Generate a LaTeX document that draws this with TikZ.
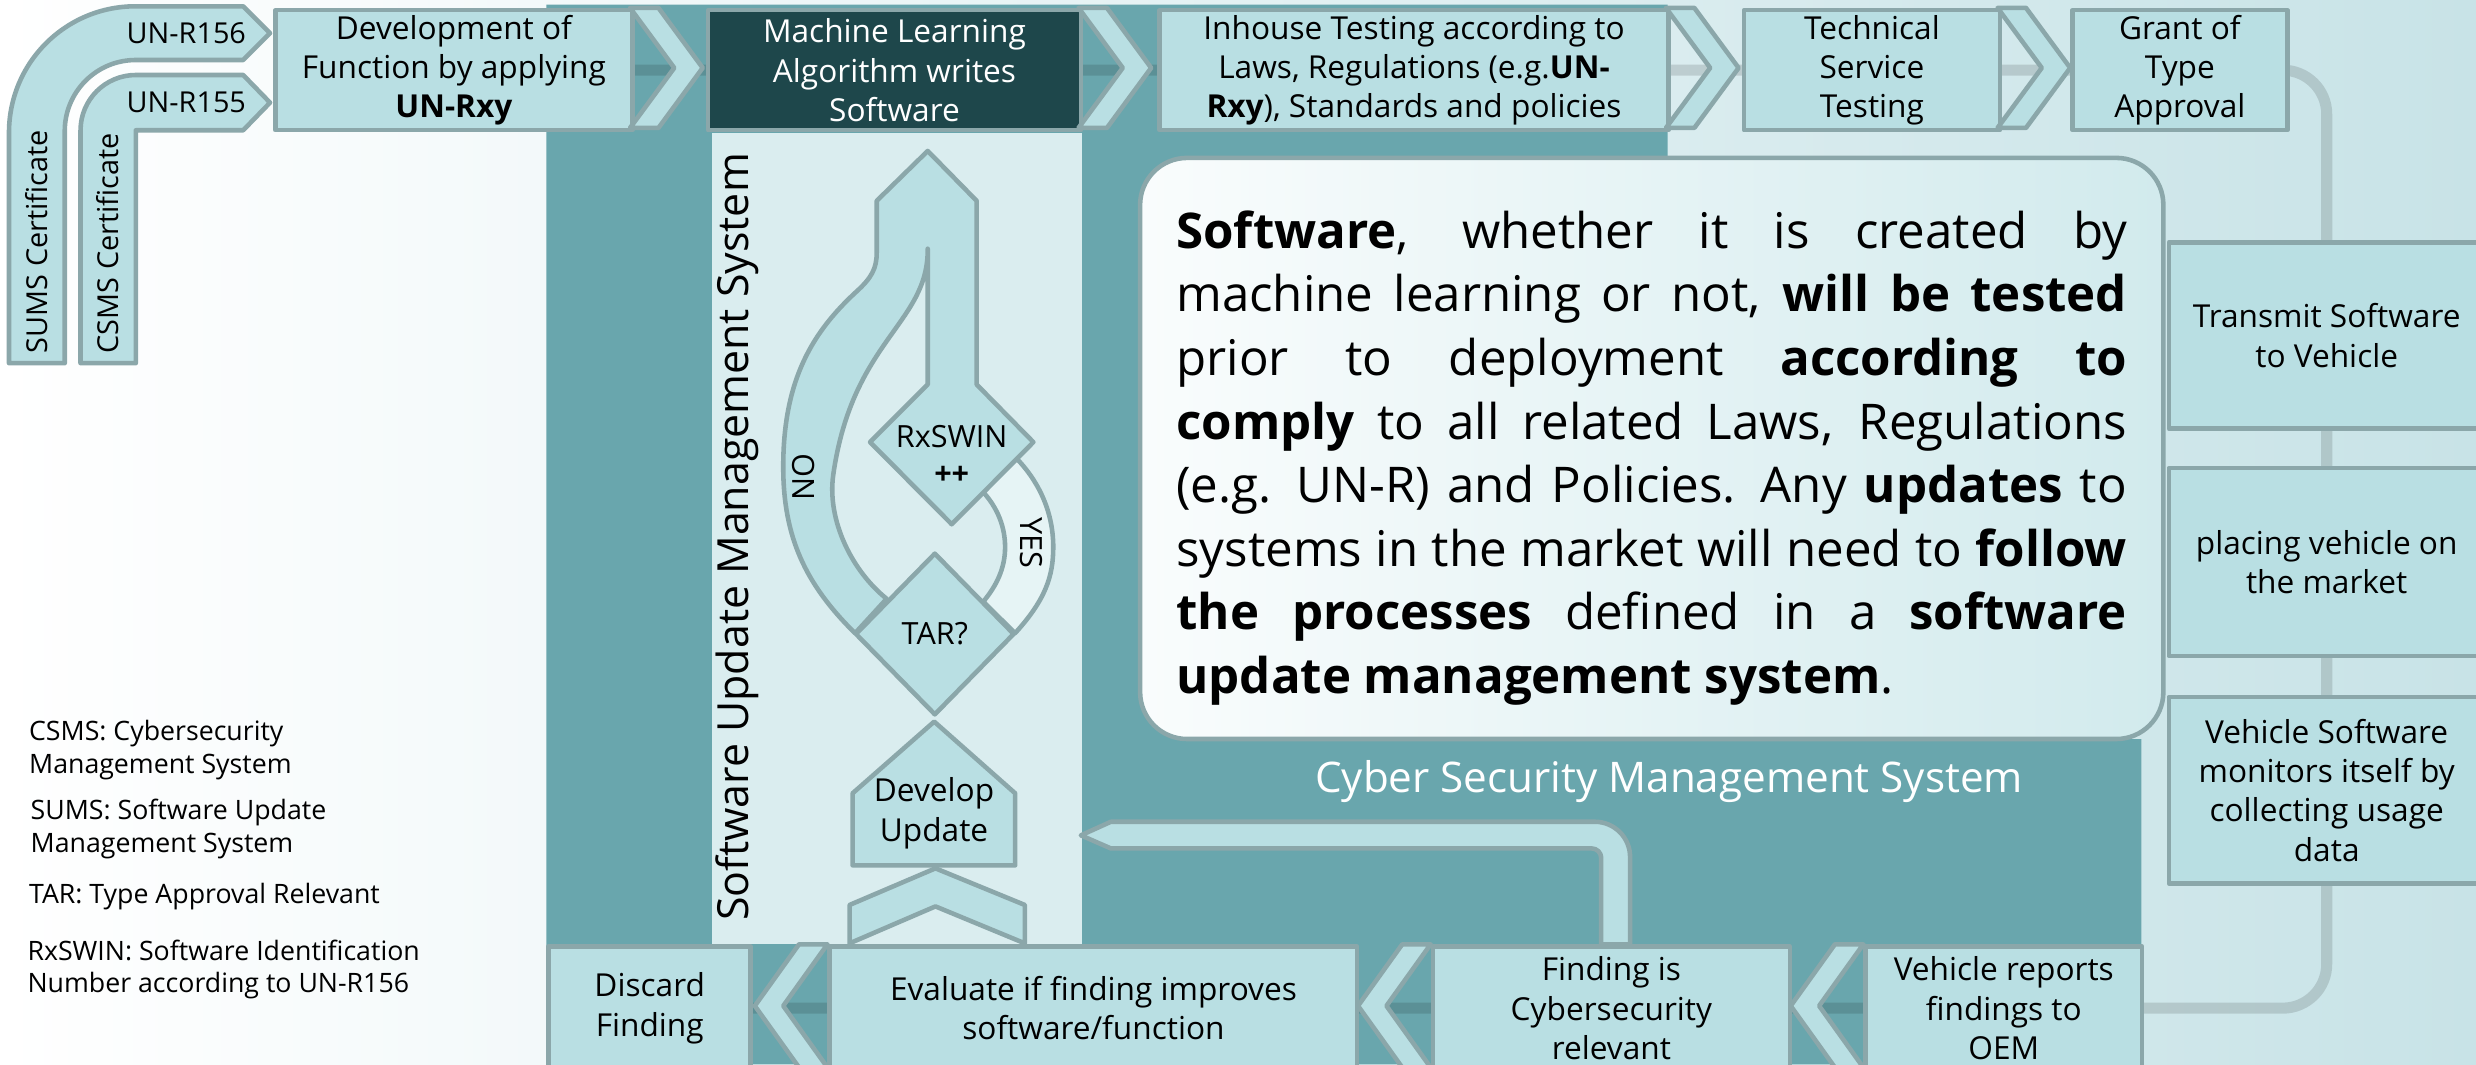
\documentclass[tikz,border=0pt]{standalone}
\usepackage{fontspec}
\setmainfont{Open Sans}
\usetikzlibrary{shapes.geometric}
\definecolor{bgR}{HTML}{C8E3E7}
\definecolor{tealbg}{HTML}{69A6AD}
\definecolor{boxfill}{HTML}{B9DFE3}
\definecolor{boxline}{HTML}{8BA7AA}
\definecolor{darkbox}{HTML}{1E474B}
\definecolor{panel}{HTML}{DAEDEF}
\definecolor{yesfill}{HTML}{E6F4F5}
\newlength{\pxu}\setlength{\pxu}{0.1579mm}
\pgfdeclarelayer{bg}\pgfdeclarelayer{lines}\pgfsetlayers{bg,lines,main}
\begin{document}
\begin{tikzpicture}[x=0.1579mm,y=-0.1579mm,line join=round,
  sz/.style 2 args={minimum width=#1*\pxu,minimum height=#2*\pxu},
  flow/.style={draw=boxline,fill=boxfill,line width=1.3pt},
  procbox/.style={flow,inner sep=0pt,anchor=north west,align=center,font=\fontsize{9}{11.2}\selectfont},
  mlbox/.style={procbox,fill=darkbox,text=white},
  lbl/.style={inner sep=0pt,align=center,font=\fontsize{8.7}{10.5}\selectfont},
  legend/.style={inner sep=0pt,anchor=west,align=left,font=\fontsize{7.6}{9.2}\selectfont},
  conn/.style={draw=black,draw opacity=.13,line width=7*\pxu,rounded corners=4.4mm},
  msgbox/.style={draw=boxline,line width=1.3pt,rounded corners=4.7mm,left color=white!92!boxfill,right color=boxfill!65!white,inner sep=0pt},
  msgtext/.style={inner sep=0pt,text width=95.06mm,font=\fontsize{14}{18.1}\selectfont}]
\useasboundingbox (0,0) rectangle (1568,674);
\begin{pgfonlayer}{bg}
\fill[left color=white,right color=bgR] (0,0) rectangle (1568,674);
\fill[tealbg] (346,3) rectangle (1056,674) (1056,468) rectangle (1356,674);
\fill[panel] (451,84) rectangle (685,598);
\end{pgfonlayer}

\draw[flow] (5.7,230) -- (5.7,84) .. controls (5.7,39.8) and (41.5,4) .. (85.7,4) -- (154,4) -- (171,21) -- (154,38) -- (86,38) .. controls (61.1,38) and (41,58.1) .. (41,83) -- (41,230) -- cycle;
\draw[flow] (51,230) -- (51,82.5) .. controls (51,63.2) and (66.7,47.5) .. (86,47.5) -- (154,47.5) -- (171,65) -- (154,82.5) -- (86,82.5) -- (86,230) -- cycle;
\node[lbl,font=\fontsize{8.2}{10}\selectfont] (r156) at (118,21) {UN-R156};
\node[lbl,font=\fontsize{8.2}{10}\selectfont] (r155) at (118,65) {UN-R155};
\node[lbl,font=\fontsize{8.2}{10}\selectfont,rotate=90] (sumscert) at (23,153) {SUMS Certificate};
\node[lbl,font=\fontsize{8.2}{10}\selectfont,rotate=90] (csmscert) at (68,154) {CSMS Certificate};

\node[procbox,sz={226}{76}] (dev) at (173,5) {Development of\\Function by applying\\\textbf{UN-Rxy}};
\node[mlbox,sz={236}{76}] (ml) at (447,5) {Machine Learning\\Algorithm writes\\Software};
\node[procbox,sz={322}{76}] (inhouse) at (733,5) {Inhouse Testing according to\\Laws, Regulations (e.g.\textbf{UN-}\\\textbf{Rxy}), Standards and policies};
\node[procbox,sz={162}{76}] (tech) at (1103,5) {Technical\\Service\\Testing};
\node[procbox,sz={136}{76}] (grant) at (1311,5) {Grant of\\Type\\Approval};
\foreach \x in {399,683,1055,1265}
  \draw[flow] (\x,5) -- ++(18,0) -- ++(28,38) -- ++(-28,38) -- ++(-18,0) -- ++(28,-38) -- cycle;

\node[procbox,sz={200}{118}] (transmit) at (1372,152) {Transmit Software\\to Vehicle};
\node[procbox,sz={200}{119}] (placing) at (1372,295) {placing vehicle on\\the market};
\node[procbox,sz={200}{118}] (monitor) at (1372,440) {Vehicle Software\\monitors itself by\\collecting usage\\data};

\draw[flow] (684.5,529) -- (703.5,520.4) -- (1010,520.4) .. controls (1022.3,520.4) and (1032.3,530.4) .. (1032.3,542.7) -- (1032.3,598) -- (1014,598) -- (1014,543.3) .. controls (1014,540) and (1011.3,537.3) .. (1008,537.3) -- (703.5,537.3) -- cycle;

\node[procbox,sz={128}{78}] (discard) at (346,598) {Discard\\Finding};
\node[procbox,sz={334}{78}] (evaluate) at (524,598) {Evaluate if finding improves\\software/function};
\node[procbox,sz={226}{78}] (finding) at (906,598) {Finding is\\Cybersecurity\\relevant};
\node[procbox,sz={175}{78}] (vehrep) at (1180,598) {Vehicle reports\\findings to\\OEM};
\foreach \x in {524,906,1180}
  \draw[flow] (\x,598) -- ++(-18,0) -- ++(-28,39) -- ++(28,39) -- ++(18,0) -- ++(-28,-39) -- cycle;

\node[msgbox,sz={648}{368}] (msg) at (1046,284) {};
\node[msgtext] (msgtxt) at (1046,290) {\spaceskip=0.26em plus 3em minus 0.06em
\makebox[\hsize][s]{\textbf{Software}, whether it is created by}\\
\makebox[\hsize][s]{machine learning or not, \textbf{will be tested}}\\
\makebox[\hsize][s]{prior to deployment \textbf{according to}}\\
\makebox[\hsize][s]{\textbf{comply} to all related Laws, Regulations}\\
\makebox[\hsize][s]{(e.g. UN-R) and Policies. Any \textbf{updates} to}\\
\makebox[\hsize][s]{systems in the market will need to \textbf{follow}}\\
\makebox[\hsize][s]{\textbf{the processes} defined in a \textbf{software}}\\
\textbf{update management system}.};

\draw[flow,fill=yesfill] (642.8,401) .. controls (662,380) and (667,365) .. (667,346.5) .. controls (667,322) and (656,303) .. (643.9,290.5) -- (622.7,311.7) .. controls (632,322) and (636.5,334) .. (636.5,346.5) .. controls (636.5,360) and (631,371) .. (622.7,381) -- cycle;
\draw[flow] (587.5,95.6) -- (618.5,127.2) -- (618.5,243.5) -- (654.4,280) -- (602.7,332) -- (551,280) -- (587.5,243.5) -- (587.5,157.5)
  .. controls (588,205) and (540,215) .. (527.7,300.5)
  .. controls (523.5,330) and (540,362) .. (561.5,379.2)
  -- (541.5,401)
  .. controls (510,370) and (496,340) .. (496,295.6)
  .. controls (496,240) and (515,210) .. (542,185)
  .. controls (552,176) and (555.2,170) .. (555.2,160)
  -- (555.2,127.2) -- cycle;
\node[flow,diamond,aspect=1,inner sep=0pt,sz={101}{103},font=\fontsize{8.7}{10.5}\selectfont] (tar) at (592,401.5) {TAR?};
\node[lbl] (rxswin) at (602.7,288) {RxSWIN\\\textbf{++}};
\node[lbl,rotate=90] (nolbl) at (509,302) {NO};
\node[lbl,rotate=-90] (yeslbl) at (653,344) {YES};
\draw[flow] (539.9,548) -- (539.9,502.4) -- (591.6,457) -- (642.9,502.4) -- (642.9,548) -- cycle;
\node[lbl,font=\fontsize{9}{11.2}\selectfont] (devup) at (591.5,515) {Develop\\Update};
\draw[flow] (538,597.4) -- (538,573.1) -- (592.4,549.9) -- (649,573.1) -- (649,597.4) -- (592.4,574) -- cycle;

\node[font=\fontsize{12}{14}\selectfont,text=white] (csmslbl) at (1057,495) {Cyber Security Management System};
\node[font=\fontsize{12.2}{14}\selectfont,rotate=90] (sumslbl) at (467,340) {Software Update Management System};

\node[legend] (lgcsms) at (18,475) {CSMS: Cybersecurity\\Management System};
\node[legend] (lgsums) at (19,525) {SUMS: Software Update\\Management System};
\node[legend] (lgtar) at (18,568) {TAR: Type Approval Relevant};
\node[legend] (lgrx) at (17,614) {RxSWIN: Software Identification\\Number according to UN-R156};

\begin{pgfonlayer}{lines}
\draw[conn] (dev.center) -- (grant.center) -- (grant.center -| transmit.center) -- (vehrep.center -| transmit.center) -- (vehrep.center) -- (discard.center);
\end{pgfonlayer}
\end{tikzpicture}
\end{document}
